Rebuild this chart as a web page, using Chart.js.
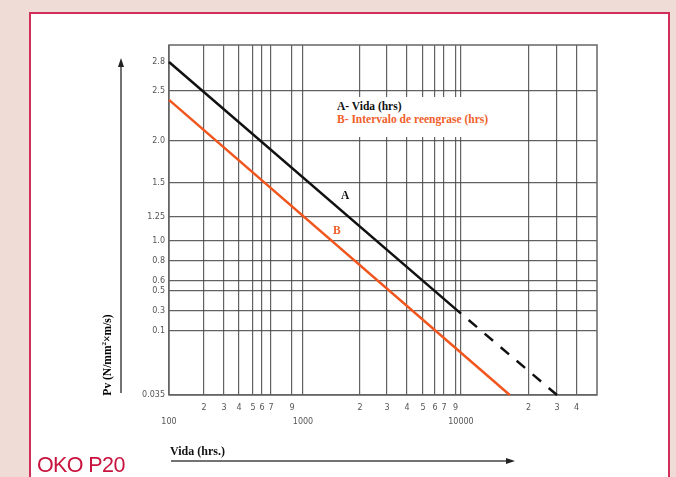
<!DOCTYPE html>
<html>
<head>
<meta charset="utf-8">
<script src="https://cdn.jsdelivr.net/npm/chart.js@4.4.1/dist/chart.umd.min.js"></script>
<style>
html, body { margin: 0; padding: 0; }
body { width: 676px; height: 477px; background: #efdcd7; position: relative; overflow: hidden; font-family: "Liberation Serif", "Times New Roman", serif; }
#box { position: absolute; left: 29px; top: 12px; width: 641px; height: 480px; background: #fff; border: 2px solid #cf2f5a; box-sizing: border-box; }
#chart { position: absolute; left: 0; top: 0; }
.note { position: absolute; font-weight: bold; white-space: nowrap; line-height: 12px; }
#legendbox { position: absolute; left: 331px; top: 97px; width: 170px; height: 40px; background: #fff; }
#oko { position: absolute; left: 37px; top: 454px; font-family: "Liberation Sans", Arial, sans-serif; font-size: 21.5px; line-height: 22px; letter-spacing: -0.6px; color: #c8143e; }
#ytitle { position: absolute; left: 57px; top: 349px; width: 100px; text-align: center; font-size: 11.5px; transform: rotate(-90deg); }
#ytitle sup { font-size: 7px; line-height: 0; }
</style>
</head>
<body>
<div id="box"></div>
<canvas id="chart" width="676" height="477"></canvas>
<div id="legendbox"></div>
<div class="note" style="left:337px; top:100px; font-size:11.5px; color:#111;">A- Vida (hrs)</div>
<div class="note" style="left:337px; top:113px; font-size:11.5px; color:#f0602a;">B- Intervalo de reengrase (hrs)</div>
<div class="note" style="left:341px; top:189px; font-size:11.5px; color:#111;">A</div>
<div class="note" style="left:333px; top:224px; font-size:11.5px; color:#f0602a;">B</div>
<div class="note" style="left:170px; top:445px; font-size:12px; color:#111;">Vida (hrs.)</div>
<div class="note" id="ytitle">Pv (N/mm<sup>2</sup>×m/s)</div>
<div id="oko">OKO P20</div>
<script>
// curves (hours, Pv)
var vidaHours = [100, 10000];
var vidaPv = [2.8, 0.27];
var vidaExtHours = [10000, 30000];
var vidaExtPv = [0.27, 0.035];
var regraseHours = [100, 16500];
var regrasePv = [2.41, 0.035];

// axis ticks
var xTicks = [100, 200, 300, 400, 500, 600, 700, 900, 1000, 2000, 3000, 4000, 5000, 6000, 7000, 9000, 10000, 20000, 30000, 40000];
var xTickLabels = [['', '100'], '2', '3', '4', '5', '6', '7', '9', ['', '1000'], '2', '3', '4', '5', '6', '7', '9', ['', '10000'], '2', '3', '4'];
var yTicks = [0.035, 0.1, 0.3, 0.5, 0.6, 0.8, 1.0, 1.25, 1.5, 2.0, 2.5, 2.8];
var yTickLabels = ['0.035', '0.1', '0.3', '0.5', '0.6', '0.8', '1.0', '1.25', '1.5', '2.0', '2.5', '2.8'];

// the printed grid is hand-spaced, so each axis is calibrated by stops (value -> fraction of axis)
var xStops = [[100, 0], [200, 0.082], [300, 0.1285], [400, 0.1636], [500, 0.1963], [600, 0.2173], [700, 0.2383],
  [900, 0.2874], [1000, 0.3131], [2000, 0.4463], [3000, 0.5093], [4000, 0.5561], [5000, 0.5935], [6000, 0.6215],
  [7000, 0.6425], [9000, 0.6694], [10000, 0.6822], [20000, 0.84], [30000, 0.9065], [40000, 0.9521], [50000, 1]];
var yStops = [[0.035, 0], [0.1, 0.1834], [0.3, 0.2413], [0.5, 0.2983], [0.6, 0.326], [0.8, 0.3839], [1.0, 0.441],
  [1.25, 0.5094], [1.5, 0.6064], [2.0, 0.7262], [2.5, 0.8688], [2.8, 0.9515], [3.0, 1]];

var scaleStops = { x: { stops: xStops, log: true }, y: { stops: yStops, log: false } };

class StopScale extends Chart.LinearScale {
  determineDataLimits() {
    var s = scaleStops[this.id].stops;
    this.min = s[0][0];
    this.max = s[s.length - 1][0];
  }
  buildTicks() {
    return (this.id === 'x' ? xTicks : yTicks).map(function(v) { return { value: v }; });
  }
  getPixelForValue(v) {
    if (v === null || isNaN(v)) return NaN;
    var cfg = scaleStops[this.id], s = cfg.stops;
    var f = cfg.log ? Math.log10 : function(a) { return a; };
    var i = 1;
    while (i < s.length - 1 && v > s[i][0]) i++;
    var a = s[i - 1], b = s[i];
    var t = (f(v) - f(a[0])) / (f(b[0]) - f(a[0]));
    return this.getPixelForDecimal(a[1] + t * (b[1] - a[1]));
  }
  getValueForPixel(p) {
    var cfg = scaleStops[this.id], s = cfg.stops;
    var d = this.getDecimalForPixel(p);
    var i = 1;
    while (i < s.length - 1 && d > s[i][1]) i++;
    var a = s[i - 1], b = s[i];
    var t = (d - a[1]) / (b[1] - a[1]);
    if (cfg.log) return Math.pow(10, Math.log10(a[0]) + t * (Math.log10(b[0]) - Math.log10(a[0])));
    return a[0] + t * (b[0] - a[0]);
  }
}
StopScale.id = 'stops';
StopScale.defaults = {};
Chart.register(StopScale);

function pts(xs, ys) {
  return xs.map(function(x, i) { return { x: x, y: ys[i] }; });
}

var framePlugin = {
  id: 'frame',
  beforeDatasetsDraw: function(chart) {
    var ctx = chart.ctx, a = chart.chartArea;
    ctx.save();
    ctx.strokeStyle = '#666';
    ctx.lineWidth = 1.5;
    ctx.strokeRect(a.left, a.top, a.right - a.left, a.bottom - a.top);
    ctx.restore();
  },
  afterDraw: function(chart) {
    var ctx = chart.ctx, a = chart.chartArea;
    ctx.save();
    ctx.strokeStyle = '#444';
    ctx.fillStyle = '#222';
    ctx.lineWidth = 1.5;
    // vertical arrow
    var ax = a.left - 48;
    ctx.beginPath(); ctx.moveTo(ax, a.bottom - 2); ctx.lineTo(ax, a.top + 18); ctx.stroke();
    ctx.beginPath(); ctx.moveTo(ax, a.top + 13); ctx.lineTo(ax - 3, a.top + 22); ctx.lineTo(ax + 3, a.top + 22); ctx.closePath(); ctx.fill();
    // horizontal arrow
    var ay = a.bottom + 66;
    ctx.beginPath(); ctx.moveTo(a.left + 2, ay); ctx.lineTo(a.left + 340, ay); ctx.stroke();
    ctx.beginPath(); ctx.moveTo(a.left + 346, ay); ctx.lineTo(a.left + 337, ay - 3); ctx.lineTo(a.left + 337, ay + 3); ctx.closePath(); ctx.fill();
    ctx.restore();
  }
};

var ctx = document.getElementById('chart');
var myChart = new Chart(ctx, {
  type: 'line',
  data: {
    datasets: [{
      data: pts(vidaHours, vidaPv),
      borderColor: '#111',
      borderWidth: 2.5
    }, {
      data: pts(vidaExtHours, vidaExtPv),
      borderColor: '#111',
      borderWidth: 2.5,
      borderDash: [11, 10],
      borderDashOffset: 11
    }, {
      data: pts(regraseHours, regrasePv),
      borderColor: '#f0561e',
      borderWidth: 2.5
    }]
  },
  options: {
    responsive: false,
    animation: false,
    events: [],
    clip: false,
    elements: { point: { radius: 0 }, line: { tension: 0 } },
    layout: { padding: { top: 45, right: 79, left: 0, bottom: 0 } },
    plugins: { legend: { display: false }, tooltip: { enabled: false } },
    scales: {
      x: {
        type: 'stops',
        afterFit: function(s) { s.height = 82; },
        border: { display: false },
        grid: { color: 'rgba(70,70,70,0.85)', lineWidth: 1.2, drawTicks: false },
        ticks: {
          autoSkip: false, maxRotation: 0, padding: 6, color: '#555',
          font: { family: 'DejaVu Sans', size: 8, lineHeight: 1.75 },
          callback: function(v, i) { return xTickLabels[i]; }
        }
      },
      y: {
        type: 'stops',
        afterFit: function(s) { s.width = 169; },
        border: { display: false },
        grid: {
          color: function(c) { return c.tick && c.tick.value === 2.8 ? 'rgba(0,0,0,0)' : 'rgba(70,70,70,0.85)'; },
          lineWidth: 1.2, drawTicks: false
        },
        ticks: {
          autoSkip: false, padding: 4, color: '#555',
          font: { family: 'DejaVu Sans', size: 8 },
          callback: function(v, i) { return yTickLabels[i]; }
        }
      }
    }
  },
  plugins: [framePlugin]
});
</script>
</body>
</html>
